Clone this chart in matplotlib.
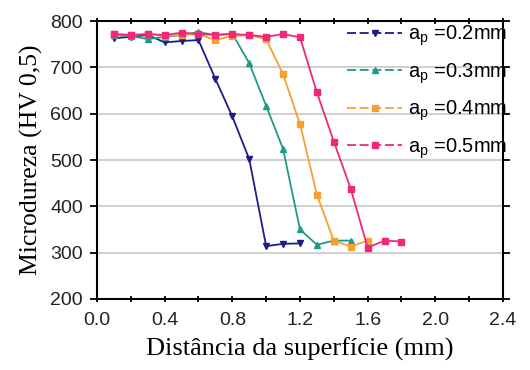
"""
Microdureza vs distância da superfície para diferentes profundidades de corte.
Salva o gráfico em out.png.
"""

import matplotlib

matplotlib.use("Agg")
import matplotlib.pyplot as plt
from matplotlib.lines import Line2D

# dados
x_02 = [0.1, 0.2, 0.3, 0.4, 0.5, 0.6, 0.7, 0.8, 0.9, 1.0, 1.1, 1.2]
y_02 = [763, 766, 770, 754, 757, 759, 675, 594, 502, 314, 319, 320]

x_03 = [0.1, 0.2, 0.3, 0.4, 0.5, 0.6, 0.7, 0.8, 0.9, 1.0, 1.1, 1.2, 1.3, 1.4, 1.5]
y_03 = [770, 768, 761, 766, 770, 776, 770, 773, 709, 617, 524, 350, 317, 326, 326]

x_04 = [0.1, 0.2, 0.3, 0.4, 0.5, 0.6, 0.7, 0.8, 0.9, 1.0, 1.1, 1.2, 1.3, 1.4, 1.5, 1.6]
y_04 = [772, 770, 772, 768, 770, 772, 759, 768, 770, 761, 685, 578, 425, 326, 313, 326]

x_05 = [0.1, 0.2, 0.3, 0.4, 0.5, 0.6, 0.7, 0.8, 0.9, 1.0, 1.1, 1.2, 1.3, 1.4, 1.5, 1.6, 1.7, 1.8]
y_05 = [772, 770, 772, 770, 775, 772, 770, 772, 770, 766, 772, 765, 646, 540, 438, 311, 326, 324]

labels = ["0.2", "0.3", "0.4", "0.5"]
colors = ["#1c1c8a", "#1f9a88", "#f5a030", "#f0287a"]
markers = ["v", "^", "s", "s"]
msizes = [5, 5, 4, 5]

x_ticks = [0.0, 0.4, 0.8, 1.2, 1.6, 2.0, 2.4]
y_ticks = [200, 300, 400, 500, 600, 700, 800]


def main():
    fig = plt.figure(figsize=(5.3, 3.7), dpi=100)
    ax = fig.add_axes([0.183, 0.192, 0.766, 0.751])

    series = [(x_02, y_02), (x_03, y_03), (x_04, y_04), (x_05, y_05)]
    handles = []
    for (xs, ys), lab, c, m, ms in zip(series, labels, colors, markers, msizes):
        ax.plot(xs, ys, color=c, marker=m, markersize=ms, linewidth=1.3)
        handles.append(Line2D([], [], color=c, marker=m, markersize=ms,
                              linewidth=1.3, linestyle=(0, (5, 2))))

    ax.set_xlim(0, 2.4)
    ax.set_ylim(200, 800)
    ax.set_xticks(x_ticks)
    ax.set_xticks([0.2, 0.6, 1.0, 1.4, 1.8, 2.2], minor=True)
    ax.set_yticks(y_ticks)
    ax.set_xticklabels([f"{v:.1f}" for v in x_ticks])
    ax.grid(axis="y", color="#c8c8c8", linewidth=1.2)
    ax.set_axisbelow(True)

    for s in ax.spines.values():
        s.set_linewidth(1.5)
    ax.tick_params(which="both", direction="inout", top=True, right=True,
                   length=5, width=1.3, labelsize=14)
    ax.tick_params(axis="x", pad=7)
    ax.tick_params(axis="y", direction="out", pad=5)
    for t in ax.get_xticklabels() + ax.get_yticklabels():
        t.set_fontfamily("Liberation Sans")
        t.set_color("#222222")

    ax.set_xlabel("Distância da superfície (mm)", family="Liberation Serif",
                  fontsize=19, labelpad=6)
    ax.set_ylabel("Microdureza (HV 0,5)", family="Liberation Serif",
                  fontsize=18.5, labelpad=5)

    leg_labels = [r"a$_\mathregular{p}$ =" + v + "mm" for v in labels]
    ax.legend(handles, leg_labels, loc="upper right", frameon=False,
              bbox_to_anchor=(1.04, 1.035), borderaxespad=0.2,
              handlelength=2.7, handletextpad=0.3,
              labelspacing=0.65, prop={"family": "Liberation Sans", "size": 14.5})

    fig.savefig("out.png", dpi=100)
    plt.close(fig)


if __name__ == "__main__":
    main()
